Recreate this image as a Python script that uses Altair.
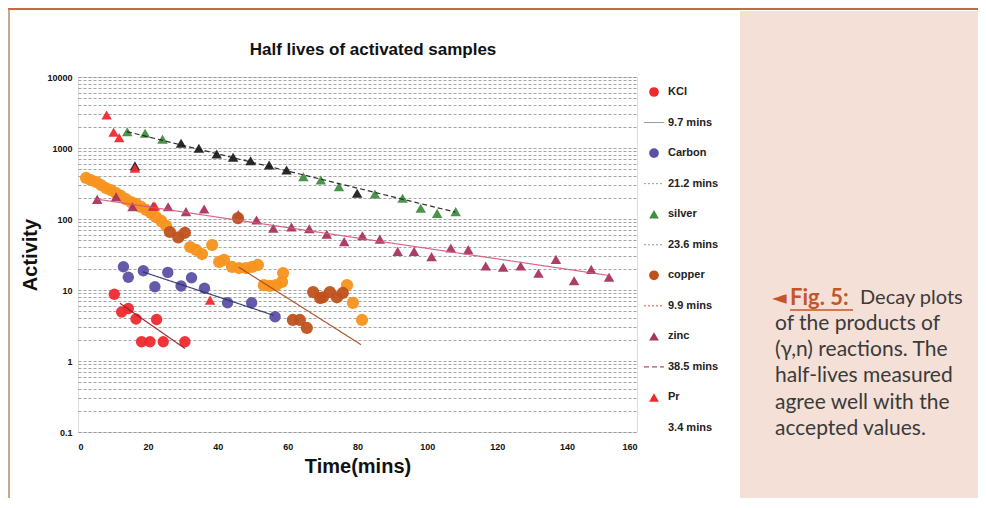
import altair as alt
import pandas as pd

# ---------------- text ----------------
TITLE = "Half lives of activated samples"
X_TITLE = "Time(mins)"
Y_TITLE = "Activity"
x_ticks = [0, 20, 40, 60, 80, 100, 120, 140, 160]
y_decades = [0.1, 1, 10, 100, 1000, 10000]
y_grid = [0.1, 0.2, 0.3, 0.4, 0.5, 0.6, 0.7, 0.8, 0.9,
          1, 2, 3, 4, 5, 6, 7, 8, 9,
          10, 20, 30, 40, 50, 60, 70, 80, 90,
          100, 200, 300, 400, 500, 600, 700, 800, 900,
          1000, 2000, 3000, 4000, 5000, 6000, 7000, 8000, 9000,
          10000]

# ---------------- data ----------------
orange_t = [2.3, 3.7, 5.2, 6.6, 8.0, 9.4, 10.9, 12.3, 13.7, 15.2, 16.6, 18.0, 19.5, 20.9,
            22.3, 23.8, 25.2, 32.1, 33.8, 35.5, 38.4, 40.4, 41.8, 44.1, 46.1, 48.1, 49.8,
            51.5, 53.2, 54.9, 56.7, 58.4, 58.7, 77.0, 78.7, 81.3]
orange_v = [378, 354, 332, 301, 273, 256, 232, 211, 191, 173, 163, 148, 134, 122,
            107, 94, 80, 40.3, 36.6, 32.1, 43, 24.8, 26.5, 21.1, 20.4, 20.4, 21.1,
            22.5, 11.7, 11.4, 11.7, 13.0, 17.3, 11.7, 6.6, 3.78]

kcl_t = [10.4, 12.5, 14.4, 16.6, 22.5, 18.2, 20.6, 24.4, 30.6]
kcl_v = [8.7, 4.9, 5.5, 3.9, 3.85, 1.87, 1.87, 1.87, 1.87]

carbon_t = [13.0, 14.4, 18.7, 22.0, 25.7, 29.5, 32.5, 36.2, 42.8, 49.7, 56.4]
carbon_v = [21.3, 15.1, 18.7, 11.1, 17.7, 11.4, 14.9, 10.6, 6.6, 6.6, 4.2]

silver_t = [14.1, 19.2, 24.2, 64.5, 69.5, 74.7, 85.0, 92.9, 98.1, 102.8, 108.1]
silver_v = [1698, 1610, 1325, 394, 354, 285, 225, 196, 142, 120, 127]
silver_dark_t = [16.3, 29.5, 34.6, 39.7, 44.4, 49.4, 54.7, 59.7, 79.9]
silver_dark_v = [560, 1164, 990, 823, 740, 663, 577, 490, 230]

copper_t = [26.3, 28.7, 30.6, 45.8, 61.5, 63.5, 65.5, 67.3, 69.3, 70.1, 72.1, 74.1, 75.8]
copper_v = [65.6, 55.0, 64.0, 103, 3.78, 3.78, 2.92, 9.37, 7.71, 7.9, 9.37, 7.9, 9.08]

zinc_t = [5.5, 10.9, 15.6, 21.5, 25.8, 30.9, 36.1, 45.9, 51.1, 55.9, 61.1, 66.2, 71.2,
          76.2, 81.4, 86.4, 91.5, 96.2, 101.2, 106.7, 111.7, 116.7, 121.7, 126.7, 131.8,
          136.8, 142.0, 146.9, 152.0]
zinc_v = [189, 206, 149, 152, 149, 127, 138, 116, 97, 74, 77, 73, 61,
          48, 58, 52, 35, 35, 29.5, 39, 37, 21.8, 20.9, 21.8, 17.2,
          27, 13.5, 19.5, 15.1]

pr_t = [8.2, 10.2, 11.8, 16.3, 22.0, 37.8]
pr_v = [2917, 1664, 1397, 518, 152, 7.2]

# trendline end points
fit_series = ["KCl", "Carbon", "silver", "copper", "zinc"]
fit_t0 = [12.0, 18.6, 14.0, 46.0, 5.5]
fit_v0 = [6.5, 18.0, 1700, 21.0, 190]
fit_t1 = [30.6, 56.0, 108.0, 81.0, 152.0]
fit_v1 = [1.5, 4.4, 125, 1.7, 16.0]
fit_color = ["#8e1b22", "#2b2d6e", "#1a1a1a", "#a8461c", "#d4577a"]
fit_dash = ["solid", "solid", "dashed", "solid", "solid"]

legend_labels = ["KCl", "9.7 mins", "Carbon", "21.2 mins", "silver", "23.6 mins",
                 "copper", "9.9 mins", "zinc", "38.5 mins", "Pr", "3.4 mins"]
legend_kind = ["series", "fit", "series", "fit", "series", "fit",
               "series", "fit", "series", "fit", "series", "none"]
legend_shape = ["circle", "", "circle", "", "triangle-up", "", "circle", "",
                "triangle-up", "", "triangle-up", ""]
legend_color = ["#ee2a2e", "#9a9a9a", "#5b52a5", "#9a9a9a", "#3f8f3f", "#9a9a9a",
                "#bf521c", "#c8564a", "#a8345f", "#8e2f3a", "#ee2a2e", "#ffffff"]
legend_dash = ["", "solid", "", "dotted", "", "dotted", "", "dotted", "", "dashed", "", ""]

caption_arrow = "\u25c4"
caption_fig = "Fig. 5:"
caption_first = "Decay plots"
caption_lines = ["of the products of", "(\u03b3,n) reactions. The", "half-lives measured",
                 "agree well with the", "accepted values."]

# ---------------- tables ----------------
series_defs = [
    ("orange", orange_t, orange_v, "circle", "#f7931e", 150),
    ("zinc", zinc_t, zinc_v, "triangle-up", "#a8345f", 110),
    ("silver", silver_t, silver_v, "triangle-up", "#3f8f3f", 110),
    ("silver_dark", silver_dark_t, silver_dark_v, "triangle-up", "#1f1f1f", 110),
    ("Pr", pr_t, pr_v, "triangle-up", "#ee2a2e", 110),
    ("copper", copper_t, copper_v, "circle", "#bf521c", 150),
    ("Carbon", carbon_t, carbon_v, "circle", "#5b52a5", 130),
    ("KCl", kcl_t, kcl_v, "circle", "#ee2a2e", 130),
]
rows = []
for k, (name, ts, vs, shp, col, sz) in enumerate(series_defs):
    for i, (t, v) in enumerate(zip(ts, vs)):
        rows.append({"series": name, "t": t, "v": v, "shape": shp, "color": col,
                     "size": sz, "z": k * 100 + i})
pts = pd.DataFrame(rows)

frows = []
for s, a, b, c, d, col, dsh in zip(fit_series, fit_t0, fit_v0, fit_t1, fit_v1, fit_color, fit_dash):
    frows.append({"series": s, "t": a, "v": b, "color": col, "dash": dsh})
    frows.append({"series": s, "t": c, "v": d, "color": col, "dash": dsh})
fits = pd.DataFrame(frows)

leg = pd.DataFrame({"label": legend_labels, "kind": legend_kind, "shape": legend_shape,
                    "color": legend_color, "dash": legend_dash})

dash_scale = alt.Scale(domain=["solid", "dashed", "dotted"], range=[[1, 0], [5, 3], [2, 2]])

xs = alt.Scale(domain=[0, 160], nice=False, zero=False)
ys = alt.Scale(type="log", domain=[0.1, 10000], nice=False)

label_expr = ("indexof([0.1, 1, 10, 100, 1000, 10000], datum.value) >= 0 ? "
              "(datum.value < 1 ? '0.1' : format(datum.value, 'd')) : ''")

x_enc = alt.X("t:Q", scale=xs, axis=alt.Axis(
    values=x_ticks, grid=False, ticks=False, domain=False, labelFontSize=9,
    labelFontWeight="bold", labelFont="Liberation Sans", labelColor="#111",
    labelPadding=10, title=X_TITLE, titleFontSize=20, titleFont="Liberation Sans",
    titleFontWeight="bold", titleColor="#111", titlePadding=5))
y_enc = alt.Y("v:Q", scale=ys, axis=alt.Axis(
    values=y_grid, grid=True, gridDash=[3, 2], gridColor="#707070", gridWidth=0.8,
    gridOpacity=0.8, ticks=False, domain=False, labelExpr=label_expr,
    labelOverlap=False, labelFontSize=9, labelFontWeight="bold",
    labelFont="Liberation Sans", labelColor="#111", labelPadding=6,
    title=Y_TITLE, titleFontSize=20, titleFont="Liberation Sans",
    titleFontWeight="bold", titleColor="#111", titlePadding=6))

points = alt.Chart(pts).mark_point(filled=True, opacity=0.95, strokeWidth=0).encode(
    x=x_enc, y=y_enc,
    shape=alt.Shape("shape:N", scale=None),
    color=alt.Color("color:N", scale=None),
    size=alt.Size("size:Q", scale=None),
    order=alt.Order("z:Q"),
)

lines = alt.Chart(fits).mark_line(strokeWidth=1.2, opacity=0.9).encode(
    x=alt.X("t:Q", scale=xs),
    y=alt.Y("v:Q", scale=ys),
    detail="series:N",
    color=alt.Color("color:N", scale=None),
    strokeDash=alt.StrokeDash("dash:N", scale=dash_scale, legend=None),
)

data_group = alt.layer(points, lines)

# ---------------- legend (Excel style) ----------------
ly = alt.Y("label:N", scale=alt.Scale(type="point", domain=legend_labels, range=[15, 351],
                                      padding=0), axis=None)
leg_pts = alt.Chart(leg).transform_filter("datum.kind == 'series'").mark_point(
    filled=True, size=95, opacity=1, strokeWidth=0).encode(
    x=alt.value(576), y=ly,
    shape=alt.Shape("shape:N", scale=None),
    color=alt.Color("color:N", scale=None))
leg_rules = alt.Chart(leg).transform_filter("datum.kind == 'fit'").mark_rule(
    strokeWidth=1).encode(
    x=alt.value(566), x2=alt.value(586), y=ly,
    color=alt.Color("color:N", scale=None),
    strokeDash=alt.StrokeDash("dash:N", scale=dash_scale, legend=None))
leg_txt = alt.Chart(leg).mark_text(align="left", baseline="middle", fontSize=11,
                                   fontWeight="bold", font="Liberation Sans",
                                   color="#222").encode(
    x=alt.value(590), y=ly, text="label:N")
legend_group = alt.layer(leg_pts, leg_rules, leg_txt)

# ---------------- page decorations, title & caption ----------------
one = pd.DataFrame({"a": [0]})
panel = alt.Chart(one).mark_rect(color="#f4e0d7").encode(
    x=alt.value(662), x2=alt.value(910), y=alt.value(-66), y2=alt.value(440))
top_line = alt.Chart(one).mark_rule(color="#c9673f", strokeWidth=2).encode(
    x=alt.value(-80), x2=alt.value(910), y=alt.value(-68))
left_line = alt.Chart(one).mark_rule(color="#b98a66", strokeWidth=1.5).encode(
    x=alt.value(-69), y=alt.value(-68), y2=alt.value(430))
title_txt = alt.Chart(one).mark_text(text=TITLE, align="center", baseline="middle",
                                     fontSize=17, fontWeight="bold", font="Liberation Sans",
                                     color="#111").encode(x=alt.value(295), y=alt.value(-27))
cap_arrow = alt.Chart(one).mark_text(text=caption_arrow, align="left", baseline="middle",
                                     fontSize=19, font="DejaVu Sans",
                                     color="#c4552a").encode(x=alt.value(694), y=alt.value(221))
cap_fig = alt.Chart(one).mark_text(text=caption_fig, align="left", baseline="middle",
                                   fontSize=22, fontWeight="bold", font="Lato",
                                   color="#c4552a").encode(x=alt.value(712), y=alt.value(221))
cap_under = alt.Chart(one).mark_rule(color="#c4552a", strokeWidth=1.3).encode(
    x=alt.value(712), x2=alt.value(775), y=alt.value(233))
cap_first = alt.Chart(one).mark_text(text=caption_first, align="left", baseline="middle",
                                     fontSize=20, font="Lato", color="#3a3a3a").encode(
    x=alt.value(782), y=alt.value(221))
cap_rest = alt.Chart(one).mark_text(text=caption_lines, align="left", baseline="middle",
                                    fontSize=21, font="Lato", color="#3a3a3a",
                                    lineHeight=26.2).encode(x=alt.value(697), y=alt.value(247))
deco = alt.layer(panel, top_line, left_line, title_txt, cap_arrow, cap_fig, cap_under,
                 cap_first, cap_rest)

chart = alt.layer(deco, data_group, legend_group).resolve_scale(
    y="independent", strokeDash="independent"
).properties(
    width=559, height=355,
    autosize=alt.AutoSizeParams(type="none"),
    padding={"left": 70, "top": 69, "right": 341, "bottom": 66},
).configure_view(stroke=None).configure(background="white")

chart.save("out.html", embed_options={"renderer": "svg", "actions": False})
